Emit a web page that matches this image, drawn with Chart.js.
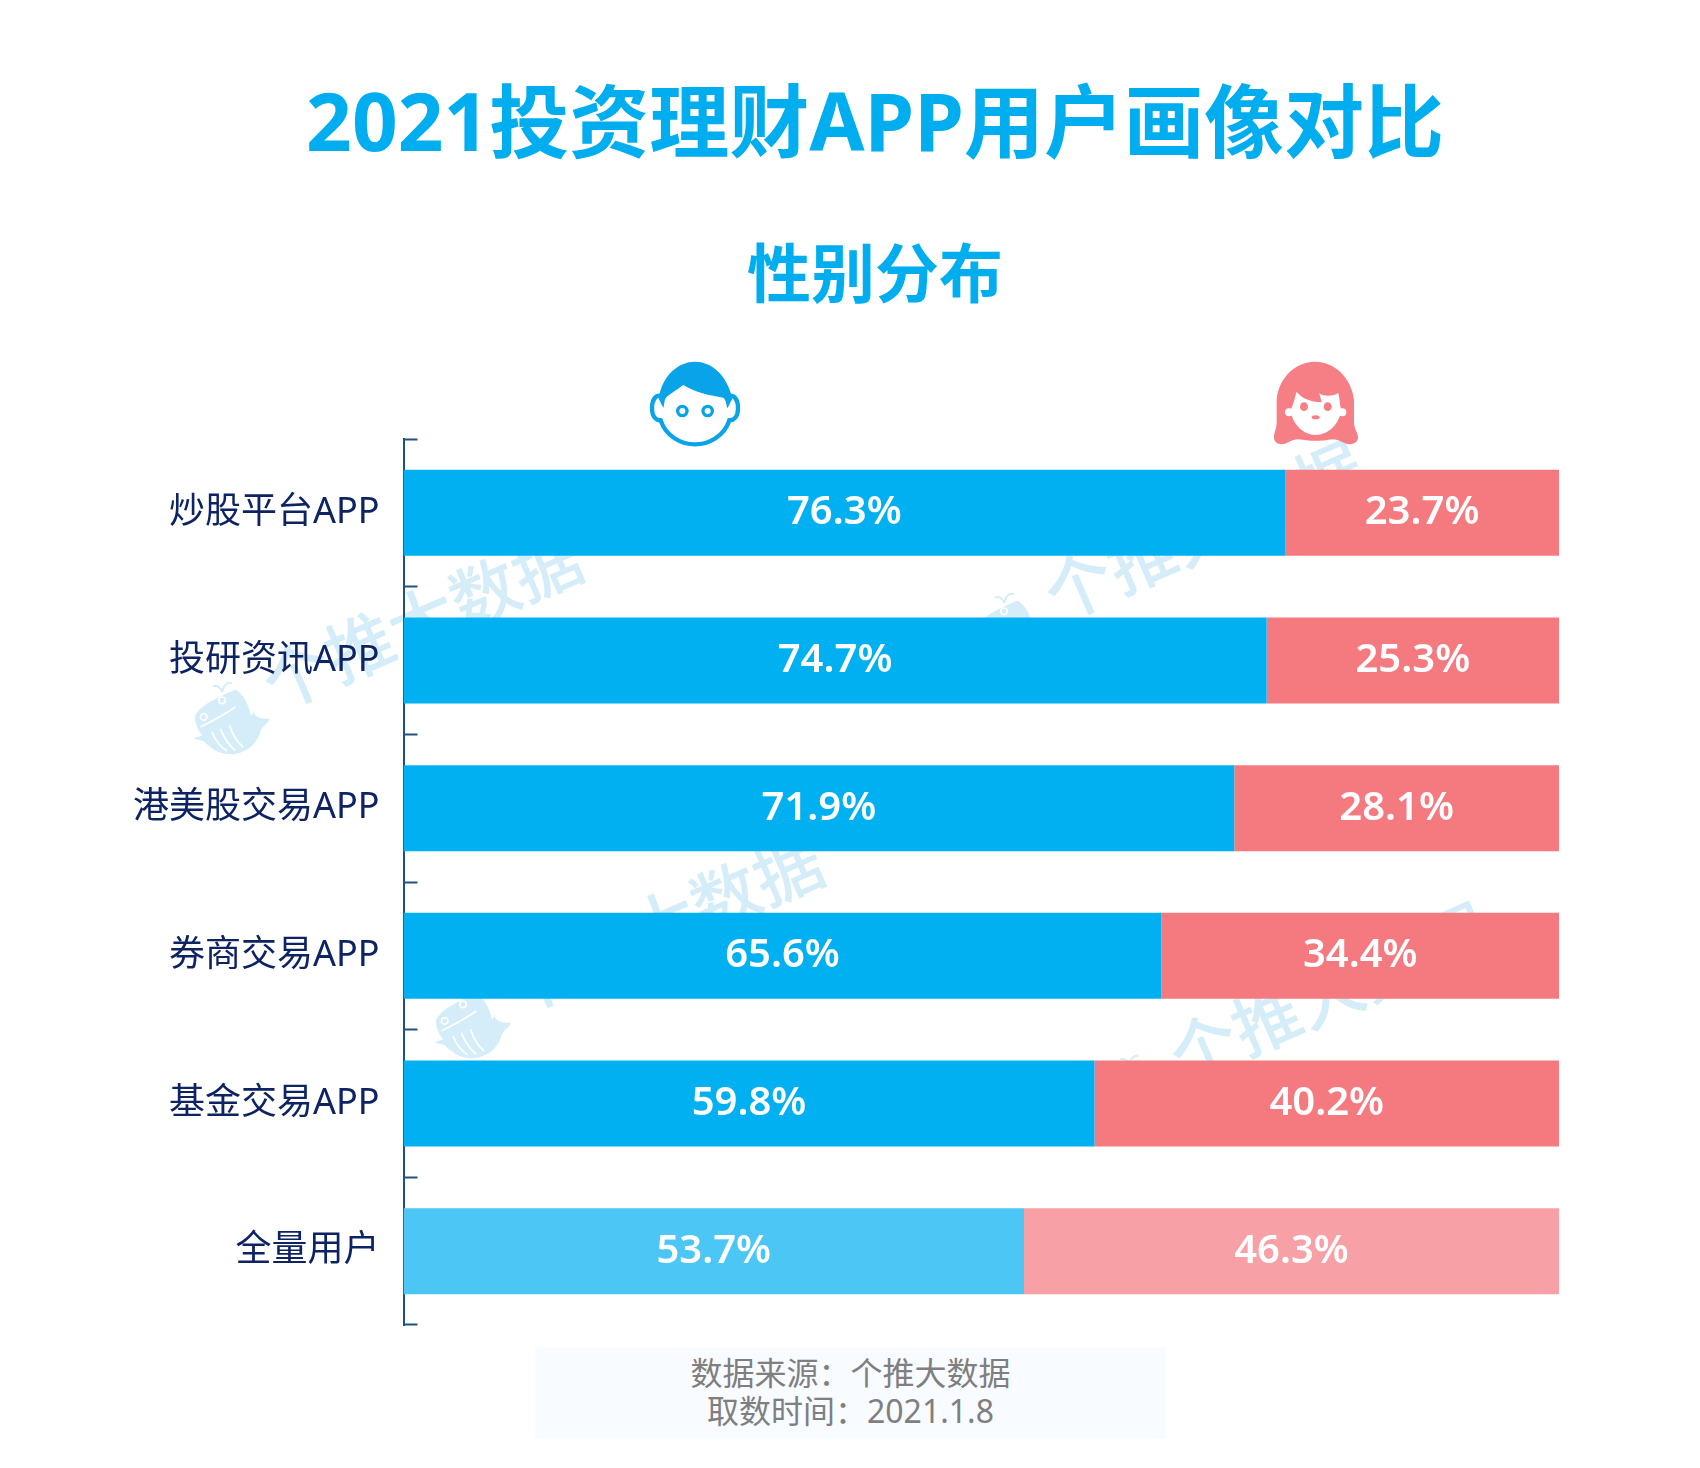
<!DOCTYPE html>
<html lang="zh-CN">
<head>
<meta charset="utf-8">
<title>2021投资理财APP用户画像对比</title>
<script src="https://cdn.jsdelivr.net/npm/chart.js@4"></script>
<style>
  html,body{margin:0;padding:0;background:#fff;}
  #wrap{position:relative;width:1700px;height:1468px;overflow:hidden;font-family:"Noto Sans","Noto Sans CJK SC",sans-serif;}
  canvas{position:absolute;left:0;top:0;}
  .icon{position:absolute;top:355px;width:110px;height:100px;}
  #foot{position:absolute;left:535px;top:1347px;width:631px;height:92px;background:#f8fbff;color:#7f7f7f;font-size:32px;line-height:38px;text-align:center;padding-top:7px;box-sizing:border-box;}
</style>
</head>
<body>
<div id="wrap">
  <canvas id="c" width="1700" height="1468"></canvas>
  <svg class="icon" style="left:640px" viewBox="0 0 330 300">
    <g fill="none" stroke="#09a3ea" stroke-width="13" stroke-linecap="round">
      <path d="M62 196 C78 245 125 268 165 268 C205 268 252 245 268 196"/>
      <path d="M62 122 C45 120 36 136 36 160 C36 182 45 196 62 196"/>
      <path d="M268 122 C285 120 294 136 294 160 C294 182 285 196 268 196"/>
    </g>
    <path fill="#09a3ea" d="M56 130 C68 60 115 20 165 20 C215 20 262 60 277 132 C272 140 268 150 262 160 C258 145 258 135 250 128 C210 122 165 112 130 90 C110 105 85 120 78 128 C72 135 74 148 70 158 C65 150 60 140 56 130Z"/>
    <g fill="#fff" stroke="#09a3ea" stroke-width="10">
      <circle cx="127" cy="168" r="14"/>
      <circle cx="203" cy="168" r="14"/>
    </g>
  </svg>
  <svg class="icon" style="left:1260px" viewBox="0 0 330 300">
    <path fill="#f67f86" d="M42 250 C40 235 50 225 50 200 L50 135 C55 70 105 20 165 20 C225 20 275 70 282 135 L282 200 C282 225 296 235 294 250 C290 270 265 272 248 262 C232 254 222 250 205 254 C185 258 150 258 128 254 C110 250 100 254 85 262 C68 272 46 270 42 250Z"/>
    <path fill="#fff" d="M92 165 C100 150 105 125 110 110 C125 130 150 140 185 142 C182 130 180 125 178 115 C190 125 215 125 235 115 C240 135 240 150 243 165 C240 205 205 240 167 240 C130 240 95 205 92 165Z"/>
    <circle cx="87" cy="172" r="12" fill="#fff"/>
    <circle cx="247" cy="172" r="12" fill="#fff"/>
    <g fill="#f67f86">
      <ellipse cx="132" cy="155" rx="12" ry="13"/>
      <ellipse cx="203" cy="155" rx="12" ry="13"/>
      <ellipse cx="167" cy="187" rx="12" ry="6"/>
    </g>
  </svg>
  <div id="foot">数据来源：个推大数据<br>取数时间：2021.1.8</div>
</div>
<script>
const categories = ["炒股平台APP", "投研资讯APP", "港美股交易APP", "券商交易APP", "基金交易APP", "全量用户"];
const maleValues = [76.3, 74.7, 71.9, 65.6, 59.8, 53.7];
const femaleValues = [23.7, 25.3, 28.1, 34.4, 40.2, 46.3];
const maleColors = ["#00b0f0", "#00b0f0", "#00b0f0", "#00b0f0", "#00b0f0", "#4bc6f5"];
const femaleColors = ["#f57a80", "#f57a80", "#f57a80", "#f57a80", "#f57a80", "#f7a1a6"];
const chartTitle = "2021投资理财APP用户画像对比";
const chartSubtitle = "性别分布";
const watermarkText = "个推大数据";
const watermarkAnchors = [[232, 717], [1014, 628], [473, 1021], [1139, 1090]];

const FONT = '"Noto Sans","Noto Sans CJK SC",sans-serif';
const WM = "#d5edf9";

const whaleBody = new Path2D("M45 495 C60 465 110 440 165 418 C190 430 205 465 212 495 C222 490 215 480 218 478 C222 500 235 505 268 505 C265 520 245 525 240 545 C230 585 190 612 150 612 C115 612 85 590 70 572 L40 565 C50 560 60 558 65 555 C50 535 42 515 45 495Z");
const whaleLines = new Path2D("M60 530 C90 515 130 495 165 470 M95 545 C105 570 120 590 140 602 M120 535 C130 560 145 585 165 600 M148 525 C155 550 170 575 188 590 M70 490 a10 10 0 1 0 .1 0 M125 440 a10 10 0 1 0 .1 0");
const whaleSpout = new Path2D("M125 425 C122 410 110 405 98 408 M125 425 C130 405 140 395 155 398");

const watermarkPlugin = {
  id: "watermark",
  afterLayout(chart) {
    // keep the long category labels from being clipped at the scale's left edge
    chart.scales.y.left = 0;
  },
  beforeDraw(chart) {
    const ctx = chart.ctx;
    watermarkAnchors.forEach(([x, y]) => {
      ctx.save();
      ctx.translate(x - 155 / 3, y - 500 / 3);
      ctx.scale(1 / 3, 1 / 3);
      ctx.fillStyle = WM;
      ctx.fill(whaleBody);
      ctx.strokeStyle = "#fff";
      ctx.lineWidth = 5;
      ctx.stroke(whaleLines);
      ctx.strokeStyle = WM;
      ctx.lineWidth = 6;
      ctx.stroke(whaleSpout);
      ctx.restore();

      ctx.save();
      ctx.translate(x, y);
      ctx.rotate(-23.5 * Math.PI / 180);
      ctx.font = "500 68px " + FONT;
      ctx.fillStyle = WM;
      ctx.textAlign = "left";
      ctx.textBaseline = "middle";
      ctx.fillText(watermarkText, 43, -7);
      ctx.restore();
    });
  }
};

const valueLabelPlugin = {
  id: "valueLabels",
  afterDatasetsDraw(chart) {
    const ctx = chart.ctx;
    ctx.save();
    ctx.font = "600 40px " + FONT;
    ctx.fillStyle = "#fff";
    ctx.textAlign = "center";
    ctx.textBaseline = "middle";
    chart.data.datasets.forEach((ds, i) => {
      chart.getDatasetMeta(i).data.forEach((bar, j) => {
        const p = bar.getProps(["x", "y", "base"], true);
        ctx.fillText(ds.data[j].toFixed(1) + "%", (p.x + p.base) / 2, p.y);
      });
    });
    ctx.restore();
  }
};

new Chart(document.getElementById("c"), {
  type: "bar",
  data: {
    labels: categories,
    datasets: [
      { label: "男", data: maleValues, backgroundColor: maleColors, borderWidth: 0 },
      { label: "女", data: femaleValues, backgroundColor: femaleColors, borderWidth: 0 }
    ]
  },
  plugins: [watermarkPlugin, valueLabelPlugin],
  options: {
    indexAxis: "y",
    responsive: false,
    animation: false,
    devicePixelRatio: 1,
    layout: { padding: { left: 191, right: 141, top: 0, bottom: 143 } },
    datasets: { bar: { barPercentage: 0.5824, categoryPercentage: 1 } },
    plugins: {
      legend: { display: false },
      tooltip: { enabled: false },
      title: {
        display: true,
        text: chartTitle,
        color: "#00aeef",
        font: { family: FONT, size: 80, weight: "700", lineHeight: 1 },
        padding: { top: 88, bottom: 79 }
      },
      subtitle: {
        display: true,
        text: chartSubtitle,
        color: "#00aeef",
        font: { family: FONT, size: 64, weight: "700", lineHeight: 1 },
        padding: { top: 0, bottom: 128 }
      }
    },
    scales: {
      x: { display: false, stacked: true, min: 0, max: 100 },
      y: {
        stacked: true,
        afterFit(scale) { scale.width = 212.5; },
        border: { display: true, color: "#1f5080", width: 2 },
        grid: {
          offset: true,
          drawOnChartArea: false,
          drawTicks: true,
          tickLength: -14,
          tickWidth: 2,
          tickColor: "#1f5080"
        },
        ticks: {
          autoSkip: false,
          padding: 38,
          color: "#0d2363",
          font: { family: FONT, size: 36 }
        }
      }
    }
  }
});
</script>
</body>
</html>
